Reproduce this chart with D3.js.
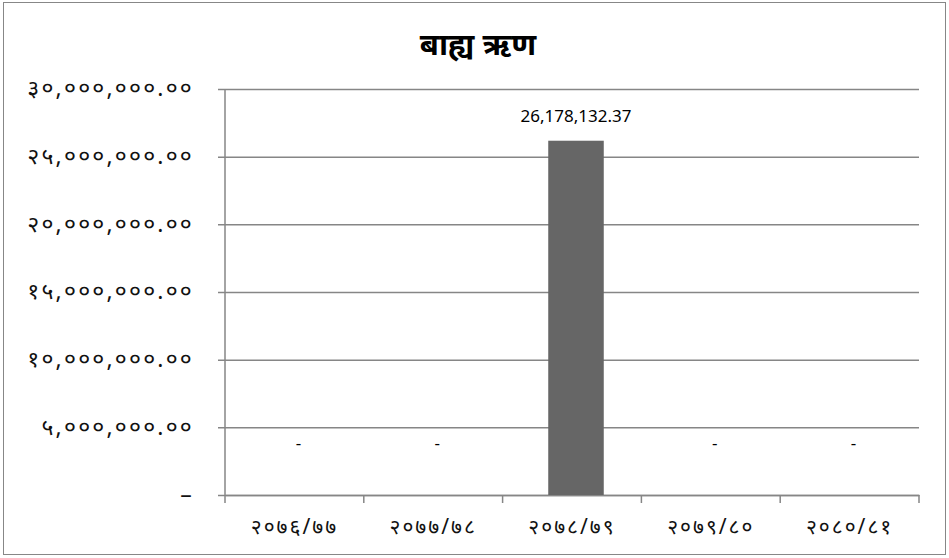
<!DOCTYPE html>
<html>
<head>
<meta charset="utf-8">
<script src="https://cdn.jsdelivr.net/npm/d3@7"></script>
<style>
  body { margin: 0; background: #fff; }
  svg text { font-family: "Noto Sans", "DejaVu Sans", sans-serif; }
</style>
</head>
<body>
<div id="chart"></div>
<script>
var years = ["२०७६/७७", "२०७७/७८", "२०७८/७९", "२०७९/८०", "२०८०/८१"];
var values = [0, 0, 26178132.37, 0, 0];
var yTicks = [0, 5000000, 10000000, 15000000, 20000000, 25000000, 30000000];
var title = "बाह्य ऋण";

const W = 949, H = 558;
var margin = {top: 89, right: 30, bottom: 63, left: 225};
var width = 919 - margin.left;
var height = 495 - margin.top;
const GRID = "#868686";

var svg = d3.select("#chart").append("svg")
    .attr("width", W)
    .attr("height", H);

// outer frame
svg.append("rect")
    .attr("x", 3.5).attr("y", 2.5)
    .attr("width", 942).attr("height", 552)
    .attr("fill", "none")
    .attr("stroke", "#878787")
    .attr("stroke-width", 1);

svg.append("text")
    .attr("x", 478)
    .attr("y", 55)
    .attr("text-anchor", "middle")
    .style("font-size", "31px")
    .style("font-weight", "bold")
    .text(title);

var devDigits = "०१२३४५६७८९";
function toDev(s) {
    return s.replace(/[0-9]/g, function(c) { return devDigits[+c]; });
}

var g = svg.append("g")
    .attr("transform", "translate(" + margin.left + "," + margin.top + ")");

var x = d3.scaleBand()
    .domain(years)
    .range([0, width])
    .paddingInner(0)
    .paddingOuter(0);

var y = d3.scaleLinear()
    .domain([0, 30000000])
    .range([height, 0]);

// gridlines + y axis
var yAxis = g.append("g")
    .call(d3.axisLeft(y)
        .tickValues(yTicks)
        .tickSize(-width)
        .tickFormat(function(d) { return d === 0 ? "–" : toDev(d3.format(",.2f")(d)); }));
yAxis.select(".domain").remove();
yAxis.selectAll(".tick line")
    .attr("x1", -7)
    .attr("stroke", GRID)
    .attr("stroke-width", 1.5);
yAxis.selectAll(".tick text")
    .style("font-size", "23px")
    .style("letter-spacing", "2.2px")
    .attr("fill", "#111")
    .attr("dy", "0.3em")
    .attr("x", -31);

g.append("line")
    .attr("x1", 0).attr("x2", 0)
    .attr("y1", 0).attr("y2", height)
    .attr("stroke", GRID)
    .attr("stroke-width", 1.5);

// x axis
var xAxis = g.append("g")
    .attr("transform", "translate(0," + height + ")")
    .call(d3.axisBottom(x).tickSize(0).tickPadding(24));
xAxis.select(".domain")
    .attr("stroke", GRID)
    .attr("stroke-width", 1.5);
xAxis.selectAll(".tick text")
    .style("font-size", "21px")
    .style("letter-spacing", "2px")
    .attr("fill", "#111");

// category boundary ticks
var bounds = years.map(function(d) { return x(d); }).concat([width]);
g.append("g")
    .selectAll("line")
    .data(bounds)
    .enter()
    .append("line")
    .attr("x1", function(d) { return d; })
    .attr("x2", function(d) { return d; })
    .attr("y1", height)
    .attr("y2", height + 8)
    .attr("stroke", GRID)
    .attr("stroke-width", 1.5);

// bars
var barW = x.bandwidth() * 0.4;
g.selectAll(".bar")
    .data(values)
    .enter()
    .append("rect")
    .attr("class", "bar")
    .attr("x", function(d, i) { return x(years[i]) + (x.bandwidth() - barW) / 2 + 4; })
    .attr("y", function(d) { return y(d); })
    .attr("width", barW)
    .attr("height", function(d) { return height - y(d); })
    .attr("fill", "#666666");

// data labels
g.selectAll(".lbl")
    .data(values)
    .enter()
    .append("text")
    .attr("class", "lbl")
    .attr("x", function(d, i) { return x(years[i]) + x.bandwidth() / 2 + 4; })
    .attr("y", function(d) { return d === 0 ? y(0) - 46 : y(d) - 19; })
    .attr("text-anchor", "middle")
    .style("font-size", "17px")
    .attr("fill", "#000")
    .text(function(d) { return d === 0 ? "-" : d3.format(",.2f")(d); });
</script>
</body>
</html>
